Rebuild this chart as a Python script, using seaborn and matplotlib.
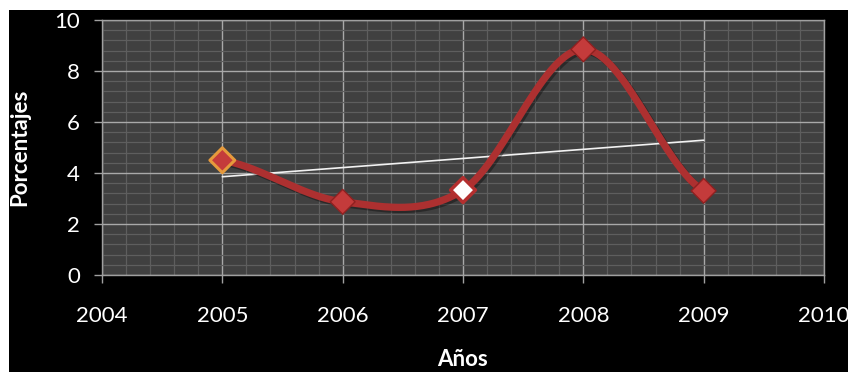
import numpy as np
import pandas as pd
import matplotlib
matplotlib.use("Agg")
import matplotlib.pyplot as plt
import matplotlib.patheffects as pe
from matplotlib.patches import Rectangle
from matplotlib.ticker import MultipleLocator
import seaborn as sns

# Data
years = [2005, 2006, 2007, 2008, 2009]
porcentajes = [4.5, 2.87, 3.33, 8.85, 3.3]
x_ticks = [2004, 2005, 2006, 2007, 2008, 2009, 2010]
y_ticks = [0, 2, 4, 6, 8, 10]

sns.set_theme(style="dark")
plt.rcParams["font.family"] = ["Lato", "DejaVu Sans"]


def smooth_curve(xs, ys, steps=60):
    """Cardinal (Catmull-Rom) spline through the points, like a smoothed line."""
    xs = np.asarray(xs, float)
    ys = np.asarray(ys, float)
    n = len(ys)
    m = np.empty(n)
    for i in range(n):
        lo, hi = max(i - 1, 0), min(i + 1, n - 1)
        m[i] = (ys[hi] - ys[lo]) / 2.0
    out_x, out_y = [], []
    for i in range(n - 1):
        t = np.linspace(0, 1, steps, endpoint=(i == n - 2))
        h00 = 2 * t**3 - 3 * t**2 + 1
        h10 = t**3 - 2 * t**2 + t
        h01 = -2 * t**3 + 3 * t**2
        h11 = t**3 - t**2
        out_y.append(h00 * ys[i] + h10 * m[i] + h01 * ys[i + 1] + h11 * m[i + 1])
        out_x.append(xs[i] + t * (xs[i + 1] - xs[i]))
    return np.concatenate(out_x), np.concatenate(out_y)


df = pd.DataFrame({"Año": years, "Porcentaje": porcentajes,
                   "punto": [str(y) for y in years]})
cx, cy = smooth_curve(years, porcentajes)
curve = pd.DataFrame({"Año": cx, "Porcentaje": cy})

fig = plt.figure(figsize=(8.48, 3.72), dpi=100, facecolor="white")
fig.patches.append(Rectangle((9 / 848, 0), 1, 362 / 372, transform=fig.transFigure,
                             facecolor="black", edgecolor="none", zorder=-10))
ax = fig.add_axes([102 / 848, 1 - 275 / 372, 722 / 848, 255 / 372])
ax.set_facecolor("#404040")

# Smoothed series line
sns.lineplot(data=curve, x="Año", y="Porcentaje", ax=ax, color="#ad3030",
             linewidth=5.2, sort=False, zorder=3,
             path_effects=[pe.SimpleLineShadow(offset=(1.5, -1.5), shadow_color="black", alpha=0.35),
                           pe.Normal()])

# Linear trend line
sns.regplot(data=df, x="Año", y="Porcentaje", ax=ax, scatter=False, ci=None,
            truncate=True, line_kws={"color": "#f2f2f2", "linewidth": 1.2, "zorder": 2})

# Diamond markers
face = {"2005": "#c43b3b", "2006": "#c43b3b", "2007": "#ffffff",
        "2008": "#c43b3b", "2009": "#c43b3b"}
edges = ["#e69a3c", "#8f2020", "#b42f2f", "#8f2020", "#8f2020"]
sns.scatterplot(data=df, x="Año", y="Porcentaje", hue="punto", palette=face,
                marker="D", s=160, edgecolor=edges, linewidth=[2.2, 1, 2.5, 1, 1],
                legend=False, ax=ax, zorder=4)

ax.set_xlim(2004, 2010)
ax.set_ylim(0, 10)
ax.set_xticks(x_ticks)
ax.set_yticks(y_ticks)
ax.set_xticklabels([str(v) for v in x_ticks])
ax.xaxis.set_minor_locator(MultipleLocator(0.2))
ax.yaxis.set_minor_locator(MultipleLocator(0.4))
ax.grid(which="minor", color="#5e5e5e", linewidth=0.9)
ax.grid(which="major", color="#a9a9a9", linewidth=1.0)
ax.set_axisbelow(True)

for side in ["left", "bottom", "top", "right"]:
    ax.spines[side].set_visible(True)
    ax.spines[side].set_color("#a0a0a0")
    ax.spines[side].set_linewidth(1.0)

ax.tick_params(which="minor", length=0)
ax.tick_params(axis="both", which="major", direction="out", length=6, width=1,
               color="#a0a0a0", labelcolor="white", labelsize=16)
ax.tick_params(axis="x", pad=16, bottom=True)
ax.tick_params(axis="y", pad=10, left=True)

ax.set_xlabel("Años", fontsize=16, fontweight="bold", color="white")
ax.set_ylabel("Porcentajes", fontsize=16, fontweight="bold", color="white")
ax.xaxis.set_label_coords(0.5, -0.292)
ax.yaxis.set_label_coords(-0.100, 0.5)

fig.savefig("out.png", dpi=100, facecolor=fig.get_facecolor())
